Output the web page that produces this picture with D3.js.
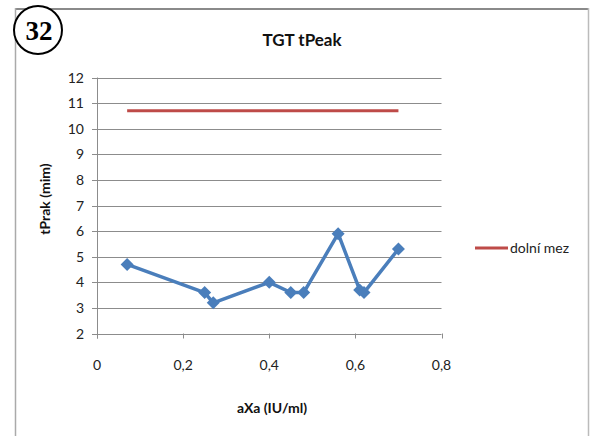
<!DOCTYPE html>
<html><head><meta charset="utf-8">
<script src="https://cdn.jsdelivr.net/npm/d3@7"></script>
<style>body{margin:0;background:#fff}svg{display:block}</style>
</head><body>
<script>
const xValues = [0.07, 0.25, 0.27, 0.40, 0.45, 0.48, 0.56, 0.61, 0.62, 0.70];
const yValues = [4.7, 3.6, 3.2, 4.0, 3.6, 3.6, 5.9, 3.7, 3.6, 5.3];
const limitX = [0.07, 0.70];
const limitY = [10.7, 10.7];
const xTicks = [0, 0.2, 0.4, 0.6, 0.8];
const yTicks = [2, 3, 4, 5, 6, 7, 8, 9, 10, 11, 12];
const title = "TGT tPeak";
const xTitle = "aXa (IU/ml)";
const yTitle = "tPrak (mim)";
const legendLabel = "dolní mez";
const badge = "32";

const W = 590, H = 436;
const svg = d3.select("body").append("svg").attr("width", W).attr("height", H);
const font = "Lato, 'Open Sans', sans-serif";

// frame
svg.append("line").attr("x1",15).attr("x2",589).attr("y1",9).attr("y2",9).attr("stroke","#8a8a8a").attr("stroke-width",2);
svg.append("line").attr("x1",15.5).attr("x2",15.5).attr("y1",8).attr("y2",H).attr("stroke","#aaa").attr("stroke-width",1.5);
svg.append("line").attr("x1",588.5).attr("x2",588.5).attr("y1",8).attr("y2",H).attr("stroke","#bbb").attr("stroke-width",1.5);

const x = d3.scaleLinear().domain([0, 0.8]).range([97, 441.5]);
const y = d3.scaleLinear().domain([2, 12]).range([333.5, 77.5]);

// gridlines
svg.append("g").selectAll("line").data(yTicks).join("line")
  .attr("x1", 92).attr("x2", x(0.8))
  .attr("y1", d => Math.round(y(d)) + 0.5).attr("y2", d => Math.round(y(d)) + 0.5)
  .attr("stroke", "#8c8c8c").attr("stroke-width", 1);

// y axis line
svg.append("line").attr("x1", 97.5).attr("x2", 97.5).attr("y1", y(12)).attr("y2", y(2) + 5)
  .attr("stroke", "#8c8c8c");
// x ticks
svg.append("g").selectAll("line").data(xTicks).join("line")
  .attr("x1", d => Math.round(x(d)) + 0.5).attr("x2", d => Math.round(x(d)) + 0.5)
  .attr("y1", y(2)).attr("y2", y(2) + 5).attr("stroke", "#8c8c8c");

// tick labels
svg.append("g").selectAll("text").data(yTicks).join("text")
  .attr("x", 84).attr("y", d => y(d) + 5)
  .attr("text-anchor", "end").attr("font-family", font).attr("font-size", 14).attr("fill", "#222")
  .text(d => d);
svg.append("g").selectAll("text").data(xTicks).join("text")
  .attr("x", d => x(d)).attr("y", 370)
  .attr("text-anchor", "middle").attr("font-family", font).attr("font-size", 14).attr("fill", "#222")
  .text(d => d === 0 ? "0" : String(d).replace(".", ","));

// limit line
svg.append("path").datum(limitX.map((d, i) => [d, limitY[i]]))
  .attr("d", d3.line().x(d => x(d[0])).y(d => y(d[1])))
  .attr("stroke", "#BE4B48").attr("stroke-width", 3).attr("fill", "none");

// series
const pts = xValues.map((d, i) => [d, yValues[i]]);
svg.append("path").datum(pts)
  .attr("d", d3.line().x(d => x(d[0])).y(d => y(d[1])))
  .attr("stroke", "#4A7EBB").attr("stroke-width", 3.5).attr("fill", "none").attr("stroke-linejoin","round");
svg.append("g").selectAll("path").data(pts).join("path")
  .attr("transform", d => `translate(${x(d[0])},${y(d[1])})`)
  .attr("d", "M0,-6.5L6.5,0L0,6.5L-6.5,0Z").attr("fill", "#4A7EBB");

// titles
svg.append("text").attr("x", 302).attr("y", 46).attr("text-anchor", "middle")
  .attr("font-family", font).attr("font-weight", "bold").attr("font-size", 17).attr("fill", "#111").text(title);
svg.append("text").attr("x", 272).attr("y", 413).attr("text-anchor", "middle")
  .attr("font-family", font).attr("font-weight", "bold").attr("font-size", 14).attr("fill", "#111").text(xTitle);
svg.append("text").attr("transform", "translate(50,199) rotate(-90)").attr("text-anchor", "middle")
  .attr("font-family", font).attr("font-weight", "bold").attr("font-size", 14).attr("fill", "#111").text(yTitle);

// legend
svg.append("line").attr("x1", 475).attr("x2", 508).attr("y1", 248).attr("y2", 248)
  .attr("stroke", "#BE4B48").attr("stroke-width", 3);
svg.append("text").attr("x", 510).attr("y", 252.5)
  .attr("font-family", font).attr("font-size", 14).attr("fill", "#222").text(legendLabel);

// badge
svg.append("circle").attr("cx", 38).attr("cy", 30).attr("r", 24)
  .attr("fill", "#fff").attr("stroke", "#000").attr("stroke-width", 2);
svg.append("text").attr("x", 39).attr("y", 40).attr("text-anchor", "middle")
  .attr("font-family", "'Liberation Serif', 'DejaVu Serif', serif").attr("font-weight", "bold")
  .attr("font-size", 27).attr("fill", "#000").text(badge);
</script>
</body></html>
